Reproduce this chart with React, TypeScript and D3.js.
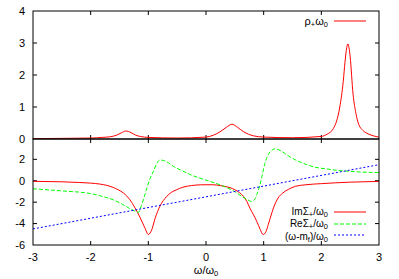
import React from "react";
import * as d3 from "d3";

const W = 399;
const H = 279;

// top panel: rho_+ * omega0
const rhoX = [-3, -2.5, -2, -1.8, -1.66, -1.55, -1.47, -1.39, -1.3, -1.22, -1.14, -1.0, -0.5, 0, 0.13, 0.24, 0.35, 0.45, 0.55, 0.65, 0.82, 1.0, 1.5, 2.0, 2.1, 2.21, 2.32, 2.38, 2.41, 2.44, 2.46, 2.48, 2.5, 2.55, 2.6, 2.64, 2.72, 2.79, 2.9, 3.0];
const rhoY = [0.01, 0.02, 0.03, 0.05, 0.07, 0.12, 0.19, 0.25, 0.2, 0.12, 0.08, 0.05, 0.03, 0.06, 0.12, 0.22, 0.36, 0.46, 0.36, 0.23, 0.1, 0.06, 0.04, 0.08, 0.15, 0.33, 1.0, 1.8, 2.4, 2.85, 2.97, 2.85, 2.57, 1.4, 0.8, 0.5, 0.27, 0.18, 0.1, 0.06];

// bottom panel: Im Sigma_+ / omega0
const imX = [-3, -2.5, -2.2, -2.0, -1.84, -1.72, -1.61, -1.52, -1.43, -1.32, -1.23, -1.14, -1.06, -1.0, -0.94, -0.88, -0.8, -0.68, -0.6, -0.51, -0.4, -0.25, -0.1, 0.1, 0.25, 0.33, 0.42, 0.5, 0.58, 0.65, 0.71, 0.76, 0.82, 0.88, 0.94, 0.99, 1.04, 1.08, 1.13, 1.17, 1.25, 1.33, 1.43, 1.55, 1.72, 2.0, 2.5, 3.0];
const imY = [-0.05, -0.1, -0.16, -0.22, -0.31, -0.43, -0.62, -0.85, -1.15, -1.77, -2.54, -3.47, -4.4, -5.02, -4.56, -3.47, -2.39, -1.46, -1.08, -0.84, -0.6, -0.45, -0.38, -0.37, -0.45, -0.53, -0.65, -0.84, -1.1, -1.46, -1.95, -2.54, -3.15, -3.78, -4.55, -5.02, -4.75, -4.09, -3.2, -2.54, -1.61, -1.15, -0.8, -0.52, -0.38, -0.27, -0.13, -0.06];

// bottom panel: Re Sigma_+ / omega0
const reX = [-3, -2.5, -2.0, -1.84, -1.6, -1.45, -1.32, -1.24, -1.17, -1.12, -1.07, -1.03, -0.97, -0.91, -0.86, -0.8, -0.74, -0.68, -0.57, -0.4, -0.28, 0, 0.15, 0.3, 0.53, 0.62, 0.71, 0.79, 0.85, 0.88, 0.93, 0.97, 1.02, 1.08, 1.14, 1.2, 1.31, 1.42, 1.54, 1.7, 1.89, 2.1, 2.29, 2.5, 2.7, 3.0];
const reY = [-0.75, -0.95, -1.2, -1.4, -1.8, -2.2, -2.6, -2.82, -2.95, -2.3, -1.5, -0.75, 0.2, 0.9, 1.55, 1.93, 1.9, 1.77, 1.36, 0.9, 0.59, 0.06, -0.2, -0.5, -1.12, -1.46, -1.74, -1.93, -1.7, -1.3, -0.5, 0.4, 1.6, 2.45, 2.85, 2.98, 2.76, 2.35, 1.98, 1.6, 1.27, 1.1, 0.96, 0.88, 0.81, 0.77];

// bottom panel: (omega - m_f) / omega0
const linX = [-3, 3];
const linY = [-4.5, 1.5];

const xTicks = [-3, -2, -1, 0, 1, 2, 3];
const topYTicks = [0, 1, 2, 3, 4];
const botYTicks = [-6, -4, -2, 0, 2];

const FONT = "'Liberation Sans', Arial, sans-serif";

function Sub({ children }: { children: React.ReactNode }) {
  return (
    <tspan fontSize={7.5} dy={2}>
      {children}
    </tspan>
  );
}

export default function App() {
  const left = 33;
  const right = 379;
  const top = 11;
  const mid = 139;
  const bottom = 245;
  const tick = 4;

  const x = d3.scaleLinear().domain([-3, 3]).range([left, right]);
  const yT = d3.scaleLinear().domain([0, 4]).range([mid, top]);
  const yB = d3.scaleLinear().domain([-6, 3.9]).range([bottom, mid]);

  const mk = (xs: number[], ys: number[], ys2: d3.ScaleLinear<number, number>) =>
    d3
      .line<number>()
      .x((_, i) => x(xs[i]))
      .y((_, i) => ys2(ys[i]))
      .curve(d3.curveMonotoneX)(xs.map((v) => v)) as string;

  const rhoPath = mk(rhoX, rhoY, yT);
  const imPath = mk(imX, imY, yB);
  const rePath = mk(reX, reY, yB);
  const linPath = d3
    .line<number>()
    .x((_, i) => x(linX[i]))
    .y((_, i) => yB(linY[i]))(linX) as string;

  const axisColor = "#000";

  return (
    <div style={{ position: "fixed", left: 0, top: 0 }}>
      <svg width={W} height={H} style={{ display: "block", background: "#fff" }} fontFamily={FONT}>
        <defs>
          <clipPath id="clipTop">
            <rect x={left} y={top} width={right - left} height={mid - top} />
          </clipPath>
          <clipPath id="clipBot">
            <rect x={left} y={mid} width={right - left} height={bottom - mid} />
          </clipPath>
        </defs>

        {/* x ticks on both panels, top & bottom edges */}
        {xTicks.slice(1, -1).map((t) => (
          <g key={"xt" + t} stroke={axisColor} strokeWidth={1}>
            <line x1={x(t)} x2={x(t)} y1={top} y2={top + tick} />
            <line x1={x(t)} x2={x(t)} y1={mid} y2={mid - tick} />
            <line x1={x(t)} x2={x(t)} y1={mid} y2={mid + tick} />
            <line x1={x(t)} x2={x(t)} y1={bottom} y2={bottom - tick} />
          </g>
        ))}
        {/* y ticks top panel */}
        {topYTicks.slice(1, -1).map((t) => (
          <g key={"yt" + t} stroke={axisColor} strokeWidth={1}>
            <line x1={left} x2={left + tick} y1={yT(t)} y2={yT(t)} />
            <line x1={right} x2={right - tick} y1={yT(t)} y2={yT(t)} />
          </g>
        ))}
        {/* y ticks bottom panel */}
        {botYTicks.slice(1).map((t) => (
          <g key={"yb" + t} stroke={axisColor} strokeWidth={1}>
            <line x1={left} x2={left + tick} y1={yB(t)} y2={yB(t)} />
            <line x1={right} x2={right - tick} y1={yB(t)} y2={yB(t)} />
          </g>
        ))}

        {/* curves */}
        <g clipPath="url(#clipTop)">
          <path d={rhoPath} fill="none" stroke="#ff0000" strokeWidth={1} />
        </g>
        <g clipPath="url(#clipBot)">
          <path d={imPath} fill="none" stroke="#ff0000" strokeWidth={1} />
          <path d={rePath} fill="none" stroke="#00ff00" strokeWidth={1} strokeDasharray="4,2" />
          <path d={linPath} fill="none" stroke="#0000ff" strokeWidth={1} strokeDasharray="2,2" />
        </g>

        {/* frames */}
        <rect x={left} y={top} width={right - left} height={mid - top} fill="none" stroke={axisColor} strokeWidth={1} />
        <rect x={left} y={mid} width={right - left} height={bottom - mid} fill="none" stroke={axisColor} strokeWidth={1} />

        {/* tick labels */}
        {topYTicks.map((t) => (
          <text key={"lt" + t} x={left - 8} y={yT(t)} dy="0.35em" textAnchor="end" fontSize={11}>
            {t}
          </text>
        ))}
        {botYTicks.map((t) => (
          <text key={"lb" + t} x={left - 8} y={yB(t)} dy="0.35em" textAnchor="end" fontSize={11}>
            {t}
          </text>
        ))}
        {xTicks.map((t) => (
          <text key={"lx" + t} x={x(t)} y={257} dy="0.35em" textAnchor="middle" fontSize={11}>
            {t}
          </text>
        ))}
        <text x={x(0)} y={274} textAnchor="middle" fontSize={11}>
          ω/ω<Sub>0</Sub>
        </text>

        {/* legend top */}
        <text x={328} y={25} textAnchor="end" fontSize={11}>
          ρ<Sub>+</Sub>
          <tspan dy={-2}>ω</tspan>
          <Sub>0</Sub>
        </text>
        <line x1={334} x2={366} y1={21} y2={21} stroke="#ff0000" strokeWidth={1} />

        {/* legend bottom */}
        <text x={328} y={214.5} textAnchor="end" fontSize={10}>
          ImΣ<Sub>+</Sub>
          <tspan dy={-2}>/ω</tspan>
          <Sub>0</Sub>
        </text>
        <line x1={334} x2={366} y1={212} y2={212} stroke="#ff0000" strokeWidth={1} />
        <text x={328} y={226.5} textAnchor="end" fontSize={10}>
          ReΣ<Sub>+</Sub>
          <tspan dy={-2}>/ω</tspan>
          <Sub>0</Sub>
        </text>
        <line x1={334} x2={366} y1={224} y2={224} stroke="#00ff00" strokeWidth={1} strokeDasharray="4,2" />
        <text x={328} y={239.5} textAnchor="end" fontSize={10}>
          (ω-m<Sub>f</Sub>
          <tspan dy={-2}>)/ω</tspan>
          <Sub>0</Sub>
        </text>
        <line x1={334} x2={366} y1={235} y2={235} stroke="#0000ff" strokeWidth={1} strokeDasharray="2,2" />
      </svg>
    </div>
  );
}
